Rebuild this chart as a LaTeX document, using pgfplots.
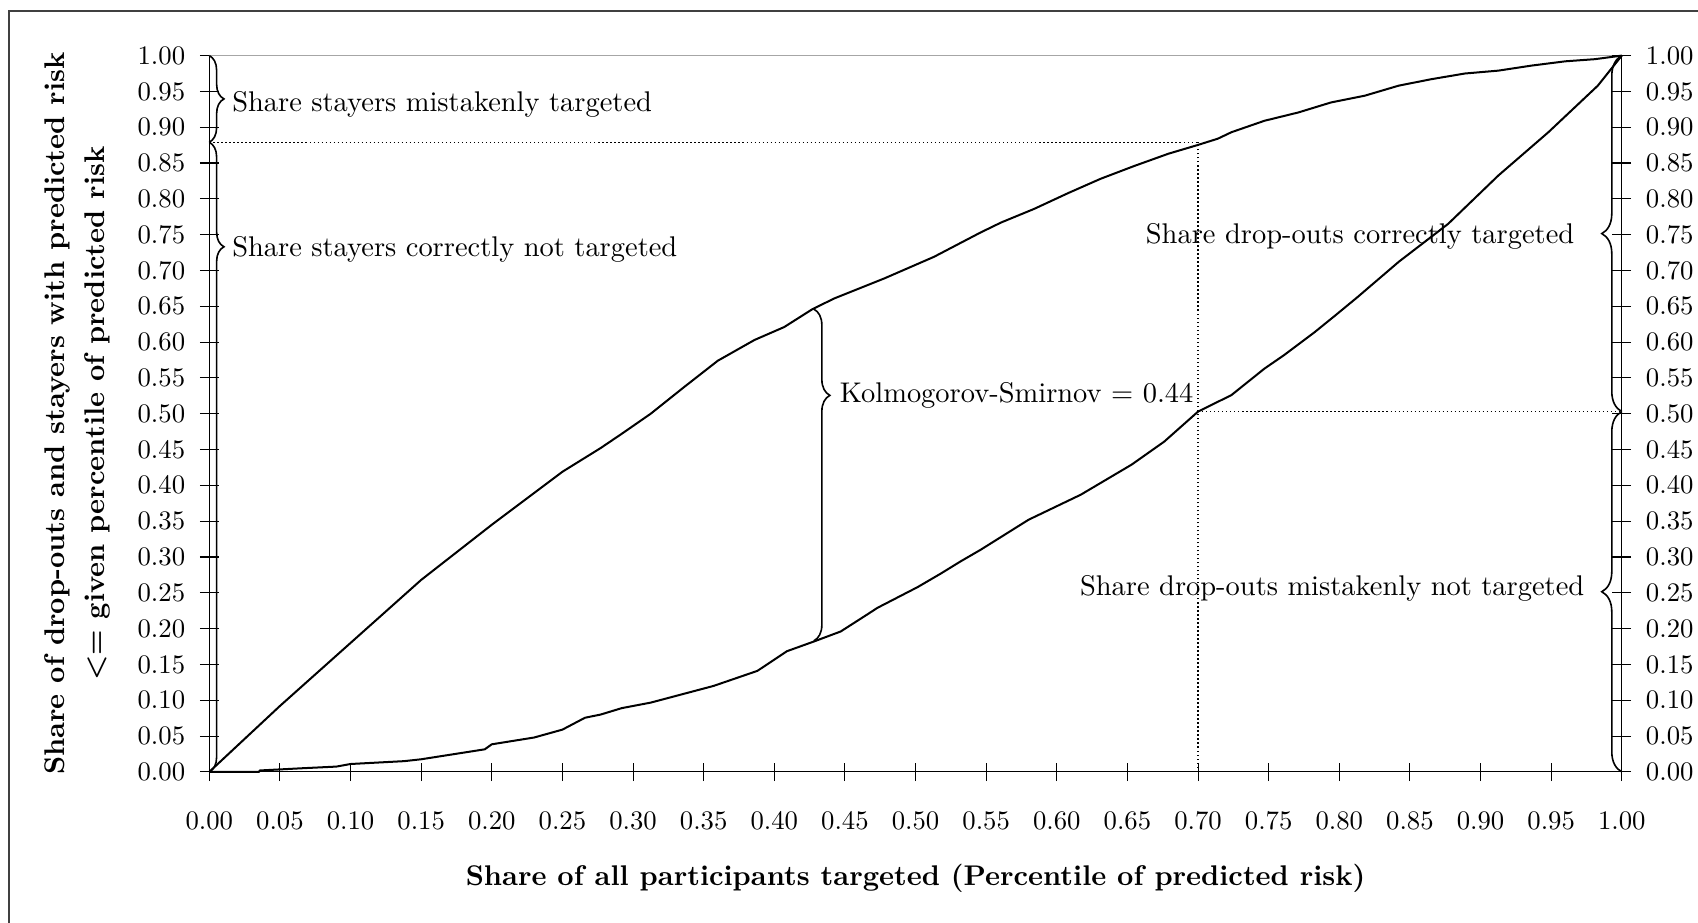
\documentclass[border=0pt]{standalone}
\usepackage{pgfplots}
\pgfplotsset{compat=1.18}
\usetikzlibrary{decorations.pathreplacing}
\newcommand\tf{\fontsize{10.65}{12.8}\selectfont}
\begin{document}
\begin{tikzpicture}
\useasboundingbox (-78.3pt,-56.5pt) rectangle (557pt,288.8pt);
\draw[line width=0.8pt, black!75] (-74.9pt,-90pt) -- (-74.9pt,284.7pt) -- (620pt,284.7pt);
\pgfplotsset{
  common/.style={
    at={(0pt,0pt)}, anchor=south west, scale only axis,
    width=528.5pt, height=268pt,
    xmin=0, xmax=1, ymin=0, ymax=1, clip=false,
    tick align=center, major tick length=7pt,
    every tick/.style={black, line width=0.4pt},
    ytick={0,0.05,0.1,0.15,0.2,0.25,0.3,0.35,0.4,0.45,0.5,0.55,0.6,0.65,0.7,0.75,0.8,0.85,0.9,0.95,1},
    xtick={0,0.05,0.1,0.15,0.2,0.25,0.3,0.35,0.4,0.45,0.5,0.55,0.6,0.65,0.7,0.75,0.8,0.85,0.9,0.95,1},
    yticklabel style={/pgf/number format/.cd, fixed, fixed zerofill, precision=2},
    xticklabel style={/pgf/number format/.cd, fixed, fixed zerofill, precision=2},
  }
}
\begin{axis}[common,
  axis x line*=bottom, axis y line*=left,
  xticklabel shift=8pt, yticklabel shift=2pt,
  xlabel={Share of all participants targeted (Percentile of predicted risk)},
  xlabel style={at={(axis description cs:0.5,0)}, anchor=center, yshift=-39.8pt, font=\tf\bfseries},
  ylabel={Share of drop-outs and stayers with predicted risk\\[2.2pt]\textless= given percentile of predicted risk},
  ylabel style={at={(axis description cs:-0.0935,0.5)}, anchor=center, align=center, font=\tf\bfseries},
]
% grey top line
\addplot[gray!70, line width=0.6pt] coordinates {(0,1) (1,1)};
% dotted guide lines
\addplot[densely dotted, line width=0.5pt] coordinates {(0,0.879) (0.70,0.879)};
\addplot[densely dotted, line width=0.5pt] coordinates {(0.70,0) (0.70,0.879)};
\addplot[densely dotted, line width=0.5pt] coordinates {(0.70,0.503) (1,0.503)};
% stayers (upper curve)
\addplot[black, line width=0.75pt] table {
x y
0 0
0.05 0.092
0.10 0.180
0.15 0.268
0.20 0.345
0.25 0.419
0.277 0.452
0.292 0.472
0.3125 0.500
0.336 0.537
0.36 0.574
0.386 0.603
0.407 0.621
0.427 0.646
0.4425 0.661
0.478 0.689
0.513 0.719
0.546 0.753
0.5606 0.767
0.584 0.786
0.608 0.808
0.631 0.828
0.655 0.846
0.679 0.863
0.6995 0.875
0.714 0.884
0.7236 0.893
0.747 0.909
0.771 0.9206
0.794 0.9345
0.818 0.944
0.842 0.958
0.865 0.967
0.889 0.975
0.9126 0.979
0.936 0.986
0.960 0.992
0.981 0.995
1 1
};
% drop-outs (lower curve)
\addplot[black, line width=0.75pt] table {
x y
0 0
0.035 0
0.036 0.002
0.065 0.005
0.09 0.0074
0.10 0.011
0.138 0.015
0.15 0.0176
0.195 0.0315
0.20 0.0385
0.23 0.048
0.25 0.059
0.266 0.0756
0.277 0.080
0.292 0.089
0.3125 0.0967
0.357 0.120
0.388 0.141
0.409 0.1685
0.428 0.182
0.447 0.196
0.466 0.220
0.473 0.229
0.5015 0.258
0.518 0.277
0.532 0.294
0.546 0.310
0.580 0.352
0.617 0.387
0.653 0.429
0.676 0.461
0.700 0.503
0.7236 0.526
0.747 0.563
0.761 0.582
0.7826 0.614
0.797 0.637
0.813 0.663
0.842 0.712
0.877 0.765
0.9126 0.8326
0.948 0.893
0.983 0.958
1 1
};
% braces
\draw[decorate, decoration={brace, amplitude=5.5pt}, line width=0.6pt] (axis cs:0,1) -- (axis cs:0,0.879);
\draw[decorate, decoration={brace, amplitude=5.5pt, aspect=0.166}, line width=0.6pt] (axis cs:0,0.879) -- (axis cs:0,0);
\draw[decorate, decoration={brace, amplitude=6pt, aspect=0.26}, line width=0.6pt] (axis cs:0.428,0.646) -- (axis cs:0.428,0.183);
\draw[decorate, decoration={brace, amplitude=7.5pt}, line width=0.6pt] (axis cs:1,0.503) -- (axis cs:1,1);
\draw[decorate, decoration={brace, amplitude=7.5pt}, line width=0.6pt] (axis cs:1,0) -- (axis cs:1,0.503);
% annotation texts
\node[anchor=west, inner sep=0pt, font=\tf] at (axis cs:0.0159,0.932) {Share stayers mistakenly targeted};
\node[anchor=west, inner sep=0pt, font=\tf] at (axis cs:0.0159,0.730) {Share stayers correctly not targeted};
\node[anchor=west, inner sep=0pt, font=\tf] at (axis cs:0.446,0.525) {Kolmogorov-Smirnov = 0.44};
\node[anchor=east, inner sep=0pt, font=\tf] at (axis cs:0.9667,0.747) {Share drop-outs correctly targeted};
\node[anchor=east, inner sep=0pt, font=\tf] at (axis cs:0.9738,0.2567) {Share drop-outs mistakenly not targeted};
\end{axis}
\begin{axis}[common,
  axis x line=none, axis y line*=right,
  yticklabel pos=right, yticklabel shift=2pt,
]
\end{axis}
\end{tikzpicture}
\end{document}
